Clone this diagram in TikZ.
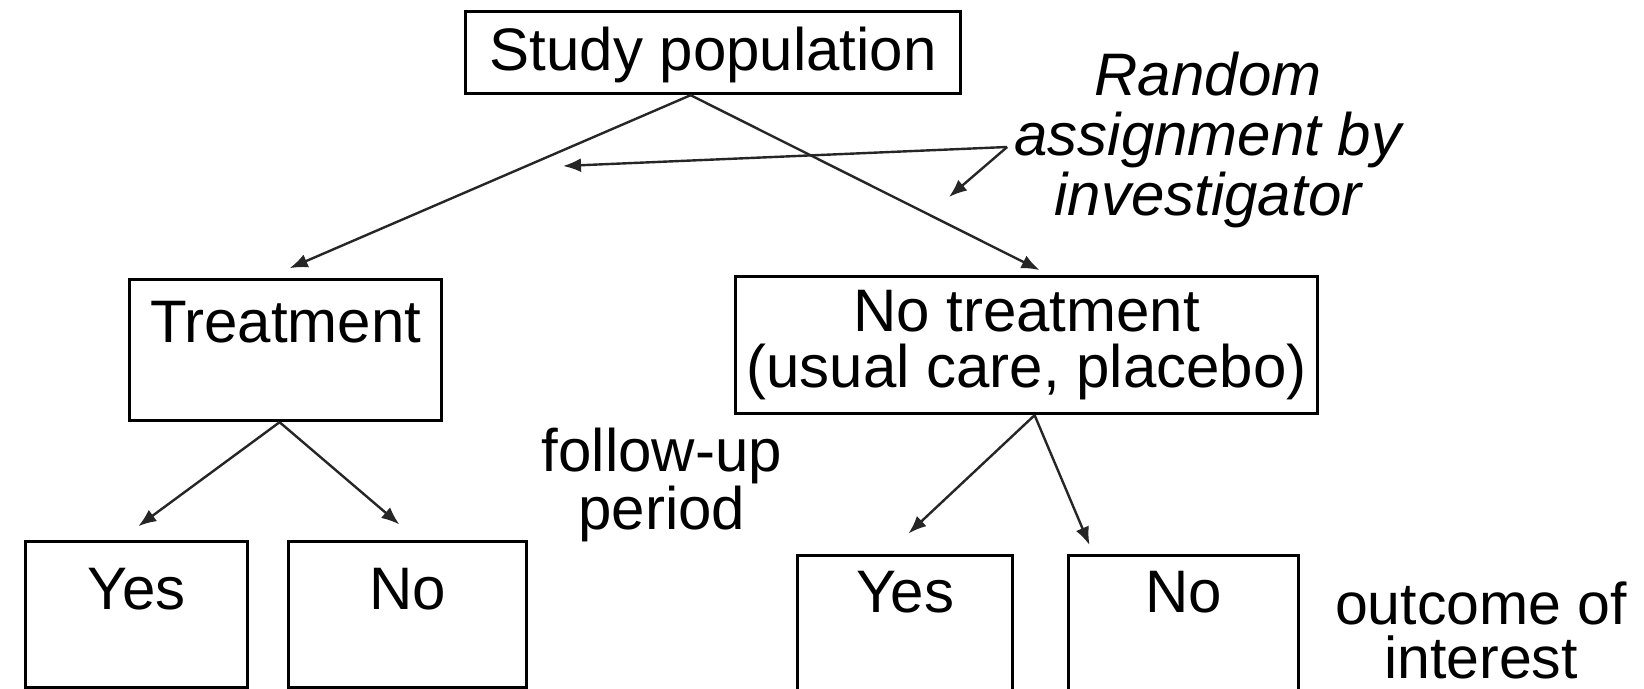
\documentclass[tikz,border=0pt]{standalone}
\usepackage{fontspec}
\setmainfont{Liberation Sans}
\usetikzlibrary{arrows.meta}
\tikzset{
  box/.style={draw, line width=1.6pt, inner sep=0pt, anchor=north west, font=\fontsize{30}{28}\selectfont},
  arr/.style={draw=black!85, line width=1.2pt, -{Latex[length=9pt,width=7pt]}},
  lbl/.style={inner sep=0pt, align=center},
}
\begin{document}
\begin{tikzpicture}[x=0.5pt,y=-0.5pt]
\useasboundingbox (0,0) rectangle (1644,689);
\clip (0,0) rectangle (1644,689);
\fill[white] (0,0) rectangle (1644,689);
% boxes
\node[box, minimum width=247.5pt, text height=29.5pt, text depth=11.5pt] (study) at (464,10) {Study population};
\node[box, minimum width=156pt, text height=31.5pt, text depth=39pt] (treat) at (128,278) {Treatment};
\node[box, minimum width=291pt, minimum height=68.5pt, align=center] (notreat) at (734,275) {No treatment\\(usual care, placebo)};
\node[box, minimum width=111pt, text height=34pt, text depth=39pt] (lyes) at (24,540) {Yes};
\node[box, minimum width=119pt, text height=34pt, text depth=39pt] (lno) at (287,540) {No};
\node[box, minimum width=107.5pt, text height=28.5pt, text depth=50pt] (ryes) at (796,554) {Yes};
\node[box, minimum width=115pt, text height=28.5pt, text depth=50pt] (rno) at (1067,554) {No};
% labels
\node[lbl, font=\fontsize{30}{30}\selectfont\itshape] (ra) at (1208,140) {Random\\assignment by\\investigator};
\node[lbl, font=\fontsize{30}{26.5}\selectfont] (fu) at (662,485) {follow-up\\period};
\node[lbl, font=\fontsize{29.5}{27}\selectfont] (oi) at (1481,630) {outcome of\\interest};
% connectors
\draw[arr, shorten >=12.4pt] ([xshift=-11.25pt]study.south) -- ([xshift=-9.35pt]treat.north);
\draw[arr, shorten >=5.5pt] ([xshift=-11.25pt]study.south) -- ([xshift=11.4pt]notreat.north);
\draw[arr, shorten >=11.6pt] ([xshift=-3pt]treat.south) -- ([xshift=-8.5pt]lyes.north);
\draw[arr, shorten >=12pt] ([xshift=-3pt]treat.south) -- ([xshift=5pt]lno.north);
\draw[arr, shorten >=15pt] ([xshift=4pt]notreat.south) -- ([xshift=-9.25pt]ryes.north);
\draw[arr, shorten >=4.9pt] ([xshift=4pt]notreat.south) -- ([xshift=-45.15pt]rno.north);
\coordinate (v) at ([shift={(-7,7)}]ra.west);
\coordinate (ra1) at (563,166);
\coordinate (ra2) at (949,197);
\draw[arr] (v) -- (ra1);
\draw[arr] (v) -- (ra2);
\end{tikzpicture}
\end{document}
